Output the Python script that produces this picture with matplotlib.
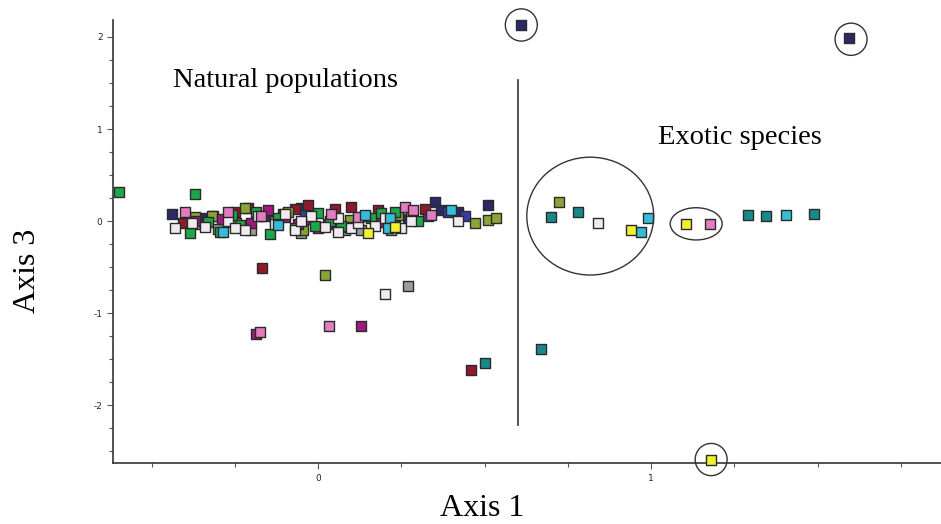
import matplotlib
matplotlib.use("Agg")
import matplotlib.pyplot as plt
from matplotlib.patches import Ellipse
from matplotlib.ticker import MultipleLocator, FixedLocator

# ---- data (Axis 1, Axis 3) by colour group ----
navy_x = [-0.44, 0.35, 0.37, 0.42, 0.51, 0.61, 1.595, -0.05, -0.16, -0.26, 0.27, -0.35]
navy_y = [0.08, 0.21, 0.12, 0.10, 0.17, 2.13, 1.99, 0.14, 0.06, -0.01, 0.02, 0.03]

blue_x = [0.39, 0.33, 0.23, -0.04, 0.44]
blue_y = [0.10, 0.05, 0.04, 0.07, 0.06]

darkred_x = [-0.405, -0.03, 0.32, -0.168, 0.46, -0.315, -0.25, -0.105, -0.21, 0.05, 0.10, -0.34, -0.07, 0.18]
darkred_y = [-0.02, 0.17, 0.13, -0.51, -1.62, 0.05, 0.10, 0.08, 0.14, 0.13, 0.15, -0.04, 0.13, 0.12]

green_x = [-0.598, -0.37, -0.385, -0.295, -0.33, -0.235, -0.145, -0.07, 0.30, 0.0, 0.19, -0.185, 0.035, -0.12, 0.07, -0.26, 0.23, -0.01, 0.16]
green_y = [0.315, 0.29, -0.13, -0.12, -0.01, -0.04, -0.14, -0.08, 0.0, 0.09, 0.09, 0.10, 0.0, 0.03, -0.05, 0.07, 0.10, -0.05, 0.03]

olive_x = [0.724, 0.02, 0.47, 0.51, 0.535, -0.22, -0.13, -0.245, 0.095, -0.045, 0.14, -0.37, 0.24, -0.32, -0.09, 0.28]
olive_y = [0.21, -0.59, -0.02, 0.01, 0.03, 0.14, 0.0, -0.02, 0.01, -0.10, 0.05, 0.04, 0.07, 0.06, 0.10, 0.05]

magenta_x = [0.13, -0.29, -0.2, -0.1, -0.02, 0.03, 0.09, -0.15, -0.06, -0.185, -0.37, 0.19, 0.0]
magenta_y = [-1.14, 0.02, -0.02, 0.04, 0.02, -0.03, -0.06, 0.12, -0.03, -1.23, 0.0, -0.01, -0.08]

pink_x = [-0.40, -0.175, 0.033, 1.177, 0.34, 0.26, 0.285, -0.17, 0.12, -0.27, 0.04]
pink_y = [0.10, -1.21, -1.14, -0.03, 0.07, 0.15, 0.12, 0.05, 0.04, 0.10, 0.08]

white_x = [-0.43, 0.20, 0.84, 0.42, -0.34, -0.27, -0.22, -0.13, -0.07, -0.02, 0.02, 0.06, 0.10, 0.14, 0.17, 0.20, 0.25, -0.18, 0.06, -0.10, -0.38, -0.25, 0.12, 0.28, -0.05]
white_y = [-0.07, -0.79, -0.02, 0.0, -0.06, 0.0, -0.10, -0.03, -0.10, 0.06, -0.06, 0.03, -0.08, 0.06, -0.05, 0.03, -0.08, 0.05, -0.12, 0.08, -0.02, -0.07, -0.02, 0.0, 0.0]

grey_x = [0.27, -0.30, 0.08, 0.22, -0.05, -0.36, -0.20, 0.13]
grey_y = [-0.71, -0.09, -0.10, -0.10, -0.13, -0.03, -0.10, -0.10]

cyan_x = [-0.285, 0.14, 0.215, 0.40, 0.99, 0.97, 1.405, 0.21, -0.12]
cyan_y = [-0.12, 0.07, 0.03, 0.12, 0.03, -0.12, 0.065, -0.07, -0.04]

teal_x = [0.70, 0.78, 1.29, 1.345, 1.49, 0.50, 0.67]
teal_y = [0.04, 0.10, 0.065, 0.05, 0.08, -1.54, -1.39]

yellow_x = [0.15, 0.94, 1.105, 1.18, 0.23]
yellow_y = [-0.13, -0.10, -0.03, -2.59, -0.06]

groups = [
    (navy_x, navy_y, "#2b2966"),
    (blue_x, blue_y, "#3d3aa6"),
    (grey_x, grey_y, "#9c9c9c"),
    (darkred_x, darkred_y, "#8e1b2c"),
    (olive_x, olive_y, "#8aa536"),
    (magenta_x, magenta_y, "#a3177f"),
    (green_x, green_y, "#1ea64a"),
    (white_x, white_y, "#efebf0"),
    (pink_x, pink_y, "#e47cc0"),
    (cyan_x, cyan_y, "#35bcd9"),
    (teal_x, teal_y, "#17898a"),
    (yellow_x, yellow_y, "#f1ef2e"),
]

x_ticks = [0, 1]
y_ticks = [-2, -1, 0, 1, 2]

fig = plt.figure(figsize=(9.41, 5.24), dpi=100)
ax = fig.add_axes([0.120, 0.116, 0.880, 0.846])
ax.set_xlim(-0.616, 1.87)
ax.set_ylim(-2.63, 2.185)

for gx, gy, col in groups:
    ax.scatter(gx, gy, marker="s", s=58, c=col, edgecolors="#2a2a2a",
               linewidths=1.0, zorder=3, clip_on=False)

# vertical separator
ax.plot([0.60, 0.60], [1.53, -2.22], color="#333333", lw=1.2, zorder=2)

# circles / ellipses (drawn round in pixel space)
ell_kw = dict(fill=False, edgecolor="#333333", lw=1.0, zorder=4, clip_on=False)
ax.add_patch(Ellipse((0.817, 0.054), 0.381, 1.28, **ell_kw))
ax.add_patch(Ellipse((1.135, -0.03), 0.156, 0.35, **ell_kw))
for cx, cy in [(0.61, 2.13), (1.60, 1.975), (1.18, -2.59)]:
    ax.add_patch(Ellipse((cx, cy), 0.096, 0.35, **ell_kw))

ax.text(-0.435, 1.53, "Natural populations", family="Liberation Serif",
        fontsize=20.5, va="center", ha="left")
ax.text(1.02, 0.91, "Exotic species", family="Liberation Serif",
        fontsize=20.5, va="center", ha="left")

for s in ["top", "right"]:
    ax.spines[s].set_visible(False)
for s in ["left", "bottom"]:
    ax.spines[s].set_color("#333333")
    ax.spines[s].set_linewidth(1.2)

ax.xaxis.set_major_locator(FixedLocator(x_ticks))
ax.yaxis.set_major_locator(FixedLocator(y_ticks))
ax.xaxis.set_minor_locator(MultipleLocator(0.25))
ax.yaxis.set_minor_locator(MultipleLocator(0.25))
ax.set_xticklabels([str(v) for v in x_ticks])
ax.set_yticklabels([str(v) for v in y_ticks])
ax.tick_params(which="both", direction="out", colors="#555555",
               labelcolor="#222222", labelsize=6.5, width=0.8)
ax.tick_params(which="major", length=4)
ax.tick_params(which="minor", length=3)

ax.set_xlabel("Axis 1", family="Liberation Serif", fontsize=23,
              va="center", ha="center")
ax.set_ylabel("Axis 3", family="Liberation Serif", fontsize=23,
              va="center", ha="center")
ax.xaxis.set_label_coords(0.446, -0.102)
ax.yaxis.set_label_coords(-0.103, 0.433)

fig.savefig("out.png", dpi=100)
